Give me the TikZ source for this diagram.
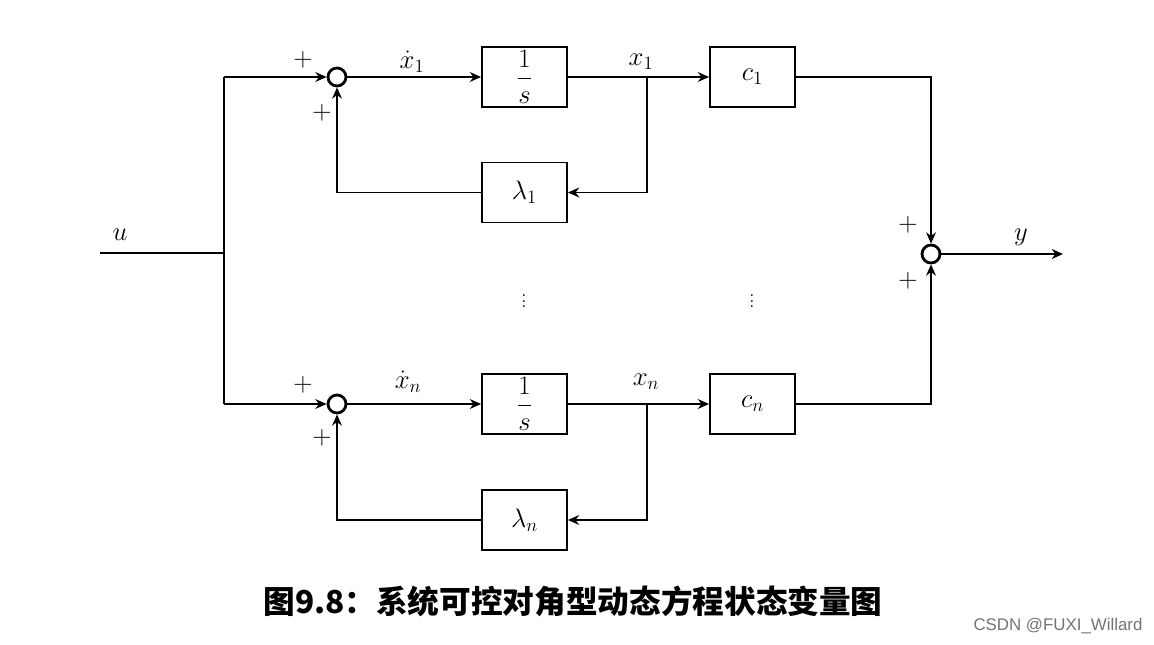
\RequirePackage{fix-cm}
\documentclass[tikz,border=0pt]{standalone}
\usepackage{fontspec}
\usepackage{amsmath}
\usetikzlibrary{arrows.meta}
\newfontfamily\cjk{Noto Sans CJK SC}
\newfontfamily\wmfont{Liberation Sans}
\begin{document}
\begin{tikzpicture}[x=0.025cm,y=-0.025cm,
  font=\fontsize{19}{22}\selectfont,
  blk/.style={draw,line width=1.3pt,minimum width=2.125cm,minimum height=1.5cm,inner sep=0pt},
  sumnode/.style={draw,circle,line width=2pt,minimum size=0.45cm,inner sep=0pt},
  wire/.style={line width=1.3pt},
  arr/.style={wire,-{Stealth[length=8pt,width=7pt]}},
  lbl/.style={inner sep=0pt}]
\useasboundingbox (0,0) rectangle (1154,644);
% top branch
\node[sumnode] (s1) at (337,77) {};
\node[blk] (int1) at (524.5,77) {$\dfrac{1}{s}$};
\node[blk] (c1) at (752.5,77) {$c_1$};
\node[blk] (l1) at (524.5,192.5) {$\lambda_1$};
% bottom branch
\node[sumnode] (sn) at (337,404) {};
\node[blk] (intn) at (524.5,404) {$\dfrac{1}{s}$};
\node[blk] (cn) at (752.5,404) {$c_n$};
\node[blk] (ln) at (524.5,520) {$\lambda_n$};
% output sum
\node[sumnode] (so) at (931,254) {};
% coordinates
\coordinate (uin) at (100,253);
\coordinate (j) at (224,253);
\coordinate (jt) at (224,77);
\coordinate (jb) at (224,404);
\coordinate (b1) at (647,77);
\coordinate (b1d) at (647,192.5);
\coordinate (bn) at (647,404);
\coordinate (bnd) at (647,520);
\coordinate (f1) at (337,192.5);
\coordinate (fn) at (337,520);
\coordinate (o1) at (931,77);
\coordinate (on) at (931,404);
\coordinate (yout) at (1063,254);
% wires
\draw[wire] (uin) -- (j);
\draw[wire] (jt) -- (jb);
\draw[arr] (jt) -- (s1.west);
\draw[arr] (jb) -- (sn.west);
\draw[arr] (s1.east) -- (int1.west);
\draw[arr] (int1.east) -- (c1.west);
\draw[arr] (b1) -- (b1d) -- (l1.east);
\draw[arr] (l1.west) -- (f1) -- (s1.south);
\draw[arr] (sn.east) -- (intn.west);
\draw[arr] (intn.east) -- (cn.west);
\draw[arr] (bn) -- (bnd) -- (ln.east);
\draw[arr] (ln.west) -- (fn) -- (sn.south);
\draw[arr] (c1.east) -- (o1) -- (so.north);
\draw[arr] (cn.east) -- (on) -- (so.south);
\draw[arr] (so.east) -- (yout);
% labels
\node[lbl] (p1) at (303,60) {$+$};
\node[lbl] (p2) at (322,113) {$+$};
\node[lbl] (p3) at (303,385) {$+$};
\node[lbl] (p4) at (322,438) {$+$};
\node[lbl] (p5) at (908,225) {$+$};
\node[lbl] (p6) at (908,281) {$+$};
\node[lbl] (lu) at (120,235) {$u$};
\node[lbl] (ly) at (1021,237) {$y$};
\node[lbl] (lxd1) at (412,62) {$\dot{x}_1$};
\node[lbl] (lx1) at (641,62) {$x_1$};
\node[lbl] (lxdn) at (408,382) {$\dot{x}_n$};
\node[lbl] (lxn) at (646,382) {$x_n$};
\node[lbl,font=\fontsize{16}{18}\selectfont] (d1) at (524,297) {$\vdots$};
\node[lbl,font=\fontsize{16}{18}\selectfont] (d2) at (752,297) {$\vdots$};
% caption
\node[lbl,font=\cjk\bfseries\fontsize{22.5}{26}\selectfont] (cap) at (573,601) {图9.8：系统可控对角型动态方程状态变量图};
\node[lbl,font=\wmfont\fontsize{12}{14}\selectfont,text=black!55] (wm) at (1058,626) {CSDN @FUXI\_Willard};
\end{tikzpicture}
\end{document}
